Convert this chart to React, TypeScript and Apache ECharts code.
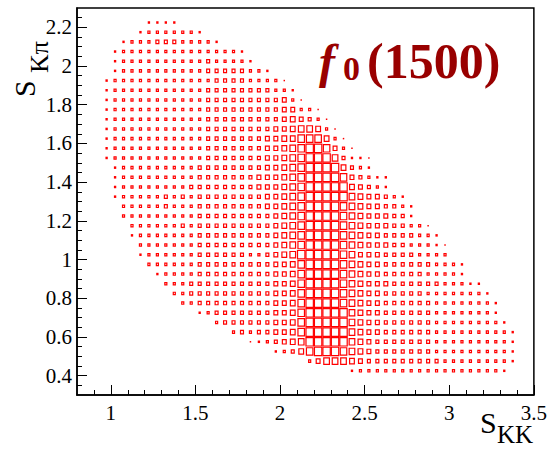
import React, { useEffect, useRef } from "react";
import * as echarts from "echarts";

// Bin width of the 2D histogram in both S_KK and S_Kπ.
const BIN = 0.05;
// Box scaling: a cell at Z_FLOOR draws a point, a cell at Z_TOP fills its bin.
const Z_FLOOR = 0.7;
const Z_TOP = 10.2;

// Axis ranges and tick positions.
const X_RANGE = [0.8, 3.5];
const Y_RANGE = [0.3, 2.3];
const X_MAJOR = [1, 1.5, 2, 2.5, 3, 3.5];
const X_MINOR = [0.9, 1.1, 1.2, 1.3, 1.4, 1.6, 1.7, 1.8, 1.9, 2.1, 2.2, 2.3, 2.4, 2.6, 2.7, 2.8, 2.9, 3.1, 3.2, 3.3, 3.4];
const Y_MAJOR = [0.4, 0.6, 0.8, 1, 1.2, 1.4, 1.6, 1.8, 2, 2.2];
const Y_MINOR = [0.35, 0.45, 0.5, 0.55, 0.65, 0.7, 0.75, 0.85, 0.9, 0.95, 1.05, 1.1, 1.15, 1.25, 1.3, 1.35, 1.45, 1.5, 1.55, 1.65, 1.7, 1.75, 1.85, 1.9, 1.95, 2.05, 2.1, 2.15, 2.25];

// Lower S_Kπ edge of each filled row of bins (bottom to top).
const ROW_Y = [0.4, 0.45, 0.5, 0.55, 0.6, 0.65, 0.7, 0.75, 0.8, 0.85, 0.9, 0.95, 1.0, 1.05, 1.1, 1.15, 1.2, 1.25, 1.3, 1.35, 1.4, 1.45, 1.5, 1.55, 1.6, 1.65, 1.7, 1.75, 1.8, 1.85, 1.9, 1.95, 2.0, 2.05, 2.1, 2.15, 2.2];
// Lower S_KK edge of the first filled bin in each row.
const ROW_X_START = [2.4, 2.15, 1.95, 1.8, 1.7, 1.6, 1.5, 1.4, 1.35, 1.3, 1.25, 1.2, 1.15, 1.15, 1.1, 1.1, 1.05, 1.05, 1.0, 1.0, 1.0, 1.0, 0.95, 0.95, 0.95, 0.95, 0.95, 0.95, 0.95, 0.95, 0.95, 1.0, 1.0, 1.0, 1.05, 1.15, 1.2];
// Cell contents along each row, starting at ROW_X_START.
const ROW_CONTENTS = [
  [2,3,3,3,3,3,3,3,3,3,3,3,3,3,3,3,3,3,2],
  [3,5,7,7,7,6,5,4,4,4,4,4,4,4,4,4,3,3,3,3,3,3,3,3,2],
  [2,3,4,6,8,9,9,9,8,7,6,5,4,4,4,4,4,4,4,3,3,3,3,3,3,3,3,3,2],
  [1,2,3,4,5,6,7,9,9,9,9,9,7,6,5,4,4,4,4,4,4,4,3,3,3,3,3,3,3,3,3,2],
  [3,4,3,4,4,5,5,6,8,9,9,9,9,9,7,6,5,5,4,4,4,4,4,4,3,3,3,3,3,3,3,3,3,2],
  [3,4,4,4,4,4,4,5,5,6,8,9,9,9,9,9,7,6,5,5,4,4,4,4,4,4,3,3,3,3,3,3,3,3,2],
  [2,3,4,4,4,4,4,4,4,5,5,6,8,9,9,9,9,9,7,6,5,5,4,4,4,4,4,4,3,3,3,3,3,3,3,2],
  [3,3,4,4,4,4,4,4,4,4,4,5,5,6,8,9,9,9,9,8,7,6,5,5,4,4,4,4,4,4,3,3,3,3,3,3,3,2],
  [3,3,4,4,4,4,4,4,4,4,4,4,5,5,6,8,9,9,9,9,8,7,6,5,5,4,4,4,4,4,3,3,3,3,3,3,3,2],
  [3,3,3,4,4,4,4,4,4,4,4,4,4,5,5,6,8,9,9,9,9,8,7,6,5,5,5,4,4,4,4,4,4,3,3,3,2,2],
  [2,3,3,3,3,4,4,4,4,4,4,4,4,4,5,5,6,8,9,9,9,9,8,7,6,5,5,4,4,4,4,4,3,3,3,3,2],
  [3,3,3,3,3,3,4,4,4,4,4,4,4,4,4,5,5,6,8,9,9,9,9,8,7,6,5,5,4,4,4,4,4,4,3,3,3,2],
  [2,3,3,3,3,3,3,4,4,4,4,4,4,3,3,4,5,6,7,9,9,9,9,9,8,7,5,5,5,4,4,4,4,3,3,3,3],
  [3,3,3,3,3,3,3,4,4,4,4,4,4,4,4,4,5,6,7,8,9,9,9,9,8,7,6,5,5,5,4,4,3,3,3,2,1],
  [2,3,3,3,3,3,3,3,4,4,4,4,4,4,4,4,4,5,6,7,8,9,9,9,9,8,7,6,5,5,4,4,4,4,3,3,2],
  [3,3,3,3,3,3,4,3,4,4,4,4,4,4,4,4,4,5,6,7,8,9,9,9,9,8,7,6,5,5,5,4,4,3,3,1],
  [3,3,3,3,3,3,3,3,3,4,4,4,4,4,4,4,4,4,5,6,7,8,9,9,9,9,8,7,6,5,5,5,4,4,2],
  [3,3,3,3,3,4,3,3,3,4,4,4,4,4,4,4,4,5,5,6,7,8,9,9,9,9,8,7,6,5,5,4,4,3,2],
  [2,3,3,3,3,3,4,3,4,3,4,4,4,4,4,4,4,4,5,5,6,7,8,9,9,9,9,9,7,6,5,5,4,3,2],
  [2,3,3,3,3,3,3,3,3,4,4,4,4,4,4,4,4,5,5,5,6,7,8,9,9,9,9,9,6,5,4,3,2],
  [2,3,3,3,3,3,3,3,3,3,4,4,4,4,4,4,4,5,5,5,6,7,8,9,9,9,9,8,5,4,3,2,2],
  [2,3,3,3,3,3,3,3,3,3,4,4,4,4,4,4,4,4,5,5,6,7,8,9,9,9,9,6,4,3,2],
  [2,3,3,3,3,3,3,3,3,3,3,3,4,4,4,4,4,4,4,5,5,6,7,8,9,9,9,7,4,2,2,1],
  [2,3,3,3,3,3,3,3,3,3,3,3,4,4,4,4,4,4,4,5,5,6,7,8,9,9,8,5,3,1],
  [2,3,3,3,3,3,3,3,3,3,3,3,4,4,4,4,4,4,4,5,5,6,6,8,8,8,6,3,1],
  [2,3,3,3,3,3,3,3,3,3,3,3,4,4,4,4,4,4,4,4,5,5,6,7,7,6,3,1],
  [2,3,3,3,3,3,3,3,3,3,3,3,4,4,4,4,4,4,4,4,4,5,6,5,4,3,1],
  [2,3,3,3,3,3,3,3,3,3,3,3,4,4,4,4,4,4,4,4,4,5,5,3,3,1],
  [2,3,3,3,3,3,3,3,3,3,3,3,4,4,4,4,4,4,4,4,4,5,3,1],
  [2,3,3,3,3,3,3,3,3,3,3,3,4,4,4,4,4,4,4,4,3,3,2],
  [2,3,3,3,3,3,3,3,3,3,3,3,3,4,4,4,4,3,3,3,3,1],
  [2,3,3,3,3,3,3,3,3,3,3,4,4,4,4,4,3,3,2],
  [2,3,3,3,3,3,3,3,3,3,3,4,3,3,3,3,2],
  [2,3,3,3,3,3,3,3,3,3,3,3,3,3,3,2],
  [2,3,3,3,4,4,4,3,3,3,3,2],
  [2,3,3,3,3,3,3,2],
  [2,2,2,2],
];

const SERIF = "Liberation Serif";
const BOX_RED = "#ff0000";
const LABEL_RED = "#990000";

function buildCells(): number[][] {
  const cells: number[][] = [];
  ROW_CONTENTS.forEach((row, i) => {
    row.forEach((z, m) => {
      cells.push([ROW_X_START[i] + m * BIN, ROW_Y[i], z]);
    });
  });
  return cells;
}

// Text whose y is the glyph baseline (SVG text is drawn with a central baseline).
function baselineText(text: string, x: number, baseline: number, font: string, size: number, fill: string) {
  return {
    type: "text",
    x,
    y: baseline - 0.3375 * size,
    style: {
      text,
      font: font.replace("SIZE", size + "px"),
      fill,
      align: "left",
      verticalAlign: "middle",
      textAlign: "left",
      textVerticalAlign: "middle",
    },
    silent: true,
  };
}

export default function App() {
  const ref = useRef<HTMLDivElement>(null);

  useEffect(() => {
    if (!ref.current) return;
    const chart = echarts.init(ref.current, null, { renderer: "svg" });

    const axisText = { fontFamily: SERIF, fontSize: 21, color: "#000" };
    const tickLine = { color: "#000", width: 1 };

    const option: any = {
      animation: false,
      backgroundColor: "#fff",
      grid: {
        left: 77,
        right: 12,
        top: 8,
        bottom: 54,
        show: true,
        borderColor: "#000",
        borderWidth: 1.5,
        containLabel: false,
      },
      xAxis: [
        {
          type: "value",
          min: X_RANGE[0],
          max: X_RANGE[1],
          position: "bottom",
          axisLine: { show: true, lineStyle: { color: "#000", width: 1.5 } },
          axisTick: { show: true, inside: true, length: 10, customValues: X_MAJOR, lineStyle: tickLine },
          axisLabel: { show: true, customValues: X_MAJOR, margin: 7, ...axisText },
          splitLine: { show: false },
        },
        {
          type: "value",
          min: X_RANGE[0],
          max: X_RANGE[1],
          position: "bottom",
          axisLine: { show: false },
          axisTick: { show: true, inside: true, length: 5, customValues: X_MINOR, lineStyle: tickLine },
          axisLabel: { show: false },
          splitLine: { show: false },
        },
      ],
      yAxis: [
        {
          type: "value",
          min: Y_RANGE[0],
          max: Y_RANGE[1],
          position: "left",
          axisLine: { show: true, lineStyle: { color: "#000", width: 1.5 } },
          axisTick: { show: true, inside: true, length: 10, customValues: Y_MAJOR, lineStyle: tickLine },
          axisLabel: { show: true, customValues: Y_MAJOR, margin: 5, ...axisText },
          splitLine: { show: false },
        },
        {
          type: "value",
          min: Y_RANGE[0],
          max: Y_RANGE[1],
          position: "left",
          axisLine: { show: false },
          axisTick: { show: true, inside: true, length: 5, customValues: Y_MINOR, lineStyle: tickLine },
          axisLabel: { show: false },
          splitLine: { show: false },
        },
      ],
      series: [
        {
          type: "custom",
          xAxisIndex: 0,
          yAxisIndex: 0,
          data: buildCells(),
          renderItem: (_params: any, api: any) => {
            const x0 = api.value(0);
            const y0 = api.value(1);
            const z = api.value(2);
            const c = api.coord([x0 + BIN / 2, y0 + BIN / 2]);
            const s = api.size([BIN, BIN]);
            const f = Math.max(0.03, (z - Z_FLOOR) / (Z_TOP - Z_FLOOR));
            const w = s[0] * f;
            const h = s[1] * f;
            return {
              type: "rect",
              shape: { x: c[0] - w / 2, y: c[1] - h / 2, width: w, height: h },
              style: { fill: "none", stroke: BOX_RED, lineWidth: 1.2 },
            };
          },
        },
      ],
      graphic: [
        // x-axis title S_KK
        baselineText("S", 480, 433, "SIZE " + SERIF, 30, "#000"),
        baselineText("KK", 497, 443, "SIZE " + SERIF, 25, "#000"),
        // y-axis title S_Kπ, rotated to read upwards
        {
          type: "group",
          x: 0,
          y: 0,
          children: [
            {
              type: "text",
              x: 35 - 0.3375 * 30,
              y: 97,
              rotation: Math.PI / 2,
              style: { text: "S", font: "30px " + SERIF, fill: "#000", align: "left", verticalAlign: "middle", textAlign: "left", textVerticalAlign: "middle" },
              silent: true,
            },
            {
              type: "text",
              x: 48 - 0.3375 * 26,
              y: 73,
              rotation: Math.PI / 2,
              style: { text: "Kπ", font: "26px " + SERIF, fill: "#000", align: "left", verticalAlign: "middle", textAlign: "left", textVerticalAlign: "middle" },
              silent: true,
            },
          ],
        },
        // resonance label f0(1500)
        baselineText("f", 319, 78, "italic bold SIZE " + SERIF, 48, LABEL_RED),
        baselineText("0", 343, 80, "bold SIZE " + SERIF, 34, LABEL_RED),
        baselineText("(1500)", 367, 78, "bold SIZE " + SERIF, 50, LABEL_RED),
      ],
    };

    chart.setOption(option);
    return () => chart.dispose();
  }, []);

  return (
    <div
      ref={ref}
      style={{ position: "fixed", left: 0, top: 0, width: 550, height: 449, background: "#fff" }}
    />
  );
}
